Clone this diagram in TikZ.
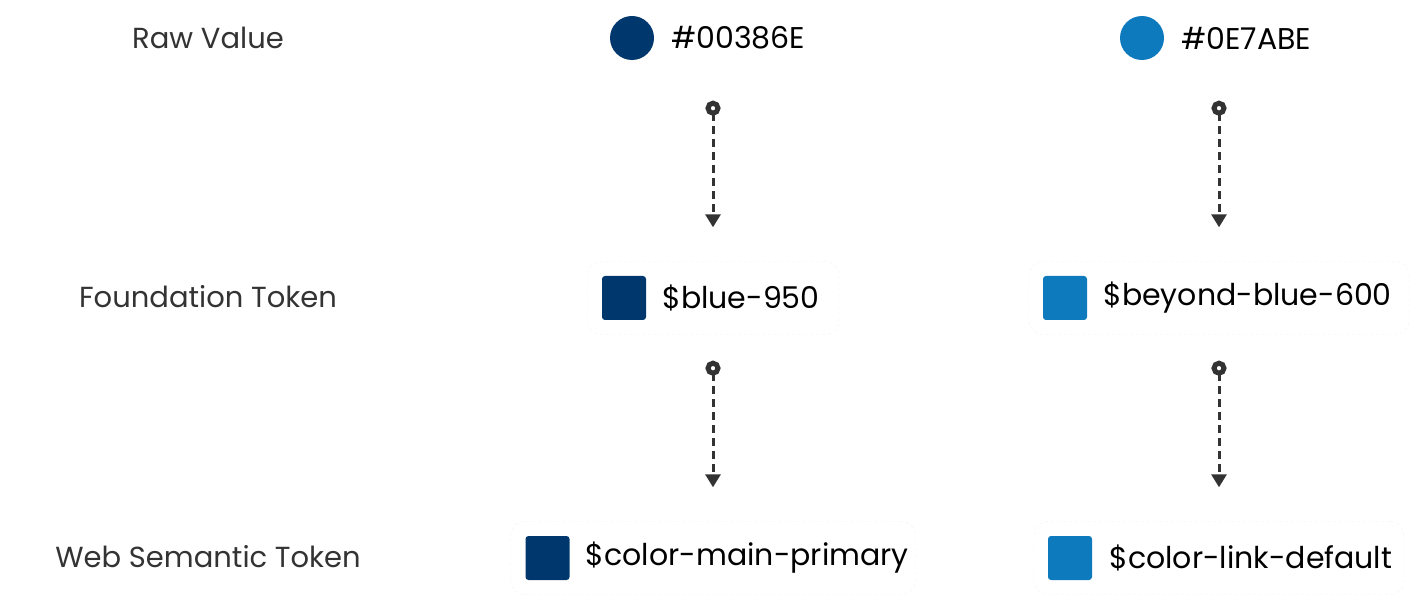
\documentclass[tikz,border=0pt]{standalone}
\usepackage{fontspec}
\setmainfont{Poppins}
\usetikzlibrary{positioning,arrows.meta}
\definecolor{navy}{HTML}{00386E}
\definecolor{sky}{HTML}{0E7ABE}
\definecolor{ink}{HTML}{333333}
\tikzset{
  rowname/.style={text=ink, font=\fontsize{29}{34}\selectfont},
  tokentext/.style={text=black, font=\fontsize{30}{36}\selectfont, inner sep=0pt, anchor=west},
  disc/.style={circle, minimum size=44pt, inner sep=0pt},
  swatch/.style={rounded corners=3pt, minimum size=44pt, inner sep=0pt},
  rawbox/.style={minimum width=220pt, minimum height=73pt},
  tokenbox/.style={draw=black!5, dashed, rounded corners=14pt, minimum height=73pt},
  flow/.style={ink, line width=3pt, dash pattern=on 8pt off 5pt,
    {Circle[open, fill=white, line width=5pt, length=15pt]}-{Triangle[length=13pt, width=15pt]},
    shorten <=26pt, shorten >=34pt}
}
\begin{document}
\begin{tikzpicture}[x=1pt, y=-1pt]
  \useasboundingbox (0,0) rectangle (1428,596);

  % row names
  \node[rowname] (rawname) at (208,38) {Raw Value};
  \node[rowname] (fndname) at (208,297) {Foundation Token};
  \node[rowname] (semname) at (208,557) {Web Semantic Token};

  % raw values
  \node[rawbox] (raw1) at (713,38) {};
  \node[disc, fill=navy] (raw1dot) at (632,38) {};
  \node[tokentext, right=17pt of raw1dot] (raw1hex) {\#00386E};

  \node[rawbox] (raw2) at (1219,38) {};
  \node[disc, fill=sky] (raw2dot) at (1142,38) {};
  \node[tokentext, right=17pt of raw2dot] (raw2hex) {\#0E7ABE};

  % foundation tokens
  \node[tokenbox, minimum width=252pt] (fnd1) at (713,298) {};
  \node[swatch, fill=navy, right=15pt of fnd1.west, anchor=west] (fnd1sw) {};
  \node[tokentext, right=16pt of fnd1sw] (fnd1txt) {\$blue-950};

  \node[tokenbox, minimum width=380pt] (fnd2) at (1219,298) {};
  \node[swatch, fill=sky, right=14pt of fnd2.west, anchor=west] (fnd2sw) {};
  \node[tokentext, right=16pt of fnd2sw] (fnd2txt) {\$beyond-blue-600};

  % semantic tokens
  \node[tokenbox, minimum width=405pt] (sem1) at (713,558) {};
  \node[swatch, fill=navy, right=15pt of sem1.west, anchor=west] (sem1sw) {};
  \node[tokentext, right=16pt of sem1sw] (sem1txt) {\$color-main-primary};

  \node[tokenbox, minimum width=370pt] (sem2) at (1219,558) {};
  \node[swatch, fill=sky, right=14pt of sem2.west, anchor=west] (sem2sw) {};
  \node[tokentext, right=17pt of sem2sw] (sem2txt) {\$color-link-default};

  % references
  \draw[flow] (raw1) -- (fnd1);
  \draw[flow] (raw2) -- (fnd2);
  \draw[flow] (fnd1) -- (sem1);
  \draw[flow] (fnd2) -- (sem2);
\end{tikzpicture}
\end{document}
